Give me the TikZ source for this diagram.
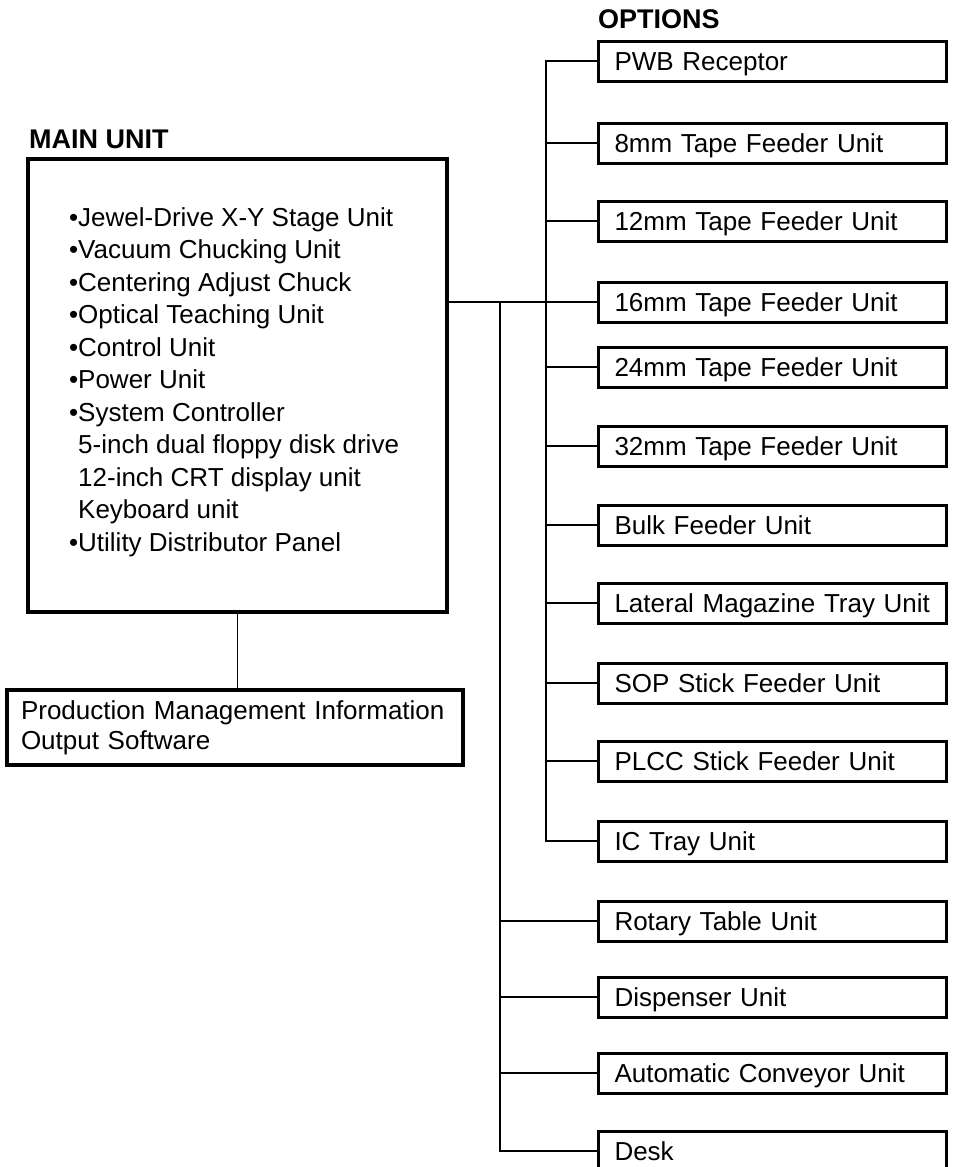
\documentclass[tikz,border=0pt]{standalone}
\usepackage{fontspec}
\setmainfont{Liberation Sans}

\begin{document}
\begin{tikzpicture}[x=1pt, y=-1pt,
    every node/.style={font=\fontsize{26}{32.5}\selectfont},
    heading/.style={font=\fontsize{27}{32}\selectfont\bfseries, anchor=base west, inner sep=0pt},
    unitbox/.style={draw, line width=3.4pt, inner ysep=0pt},
    optbox/.style={draw, line width=3pt, minimum height=40pt, text width=316pt, text height=19pt, text depth=0pt,
        inner xsep=16pt, inner ysep=0pt, align=left, anchor=west},
    link/.style={line width=1.8pt}]
    \useasboundingbox (0,0) rectangle (972,1167);

    % main unit
    \node[heading] (mainhead) at (29,148) {MAIN UNIT};
    \node[unitbox, minimum width=419pt, minimum height=453pt] (main) at (237.5,385.5) {};
    \node[anchor=north west, inner sep=0pt, align=left] (mainlist) at (78,207)
        {\llap{\textbullet}Jewel-Drive X-Y Stage Unit\\
         \llap{\textbullet}Vacuum Chucking Unit\\
         \llap{\textbullet}Centering Adjust Chuck\\
         \llap{\textbullet}Optical Teaching Unit\\
         \llap{\textbullet}Control Unit\\
         \llap{\textbullet}Power Unit\\
         \llap{\textbullet}System Controller\\
         5-inch dual floppy disk drive\\
         12-inch CRT display unit\\
         Keyboard unit\\
         \llap{\textbullet}Utility Distributor Panel};
    \node[unitbox, text width=428pt, inner xsep=14pt, minimum height=75pt, align=left,
        font=\fontsize{26}{30}\selectfont] (pmio) at (235,727.5)
        {Production Management Information\\Output Software};

    % options
    \node[heading] (opthead) at (598,28) {OPTIONS};
    \node[optbox] (pwb) at (597,61) {PWB Receptor};
    \node[optbox] (tape8) at (597,143) {8mm Tape Feeder Unit};
    \node[optbox] (tape12) at (597,221) {12mm Tape Feeder Unit};
    \node[optbox] (tape16) at (597,302) {16mm Tape Feeder Unit};
    \node[optbox] (tape24) at (597,367) {24mm Tape Feeder Unit};
    \node[optbox] (tape32) at (597,446) {32mm Tape Feeder Unit};
    \node[optbox] (bulk) at (597,525) {Bulk Feeder Unit};
    \node[optbox] (lateral) at (597,603) {Lateral Magazine Tray Unit};
    \node[optbox] (sop) at (597,683) {SOP Stick Feeder Unit};
    \node[optbox] (plcc) at (597,761) {PLCC Stick Feeder Unit};
    \node[optbox] (ictray) at (597,841) {IC Tray Unit};
    \node[optbox] (rotary) at (597,921) {Rotary Table Unit};
    \node[optbox] (dispenser) at (597,997) {Dispenser Unit};
    \node[optbox] (conveyor) at (597,1073) {Automatic Conveyor Unit};
    \node[optbox] (desk) at (597,1151) {Desk};

    % connectors
    \coordinate (inbus) at (546,0);
    \coordinate (outbus) at (500,0);
    \draw[link] (main.south) -- (main.south |- pmio.north);
    \draw[link] (main.east |- tape16.west) -- (tape16.west);
    \draw[link] (pwb.west) -| (inbus |- ictray.west) -- (ictray.west);
    \foreach \n in {tape8,tape12,tape24,tape32,bulk,lateral,sop,plcc}
        \draw[link] (inbus |- \n.west) -- (\n.west);
    \draw[link] (outbus |- tape16.west) |- (desk.west);
    \foreach \n in {rotary,dispenser,conveyor}
        \draw[link] (outbus |- \n.west) -- (\n.west);
\end{tikzpicture}
\end{document}
